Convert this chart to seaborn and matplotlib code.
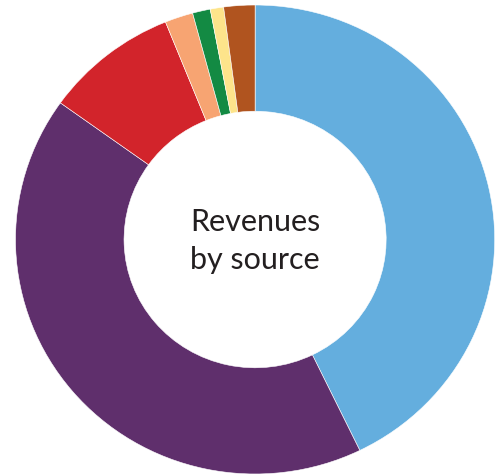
import matplotlib
matplotlib.use('Agg')
import matplotlib.pyplot as plt
import seaborn as sns

# revenue shares (%), clockwise from 12 o'clock
sources = ['Source 1', 'Source 2', 'Source 3', 'Source 4', 'Source 5', 'Source 6', 'Source 7']
shares = [42.8, 42.1, 9.0, 1.9, 1.2, 0.9, 2.1]
colors = ['#64AEDE', '#5F2F6C', '#D2242B', '#F7A472', '#138A43', '#FDE48B', '#B0541F']
center_text = 'Revenues\nby source'

sns.set_theme(style='white')
plt.rcParams['font.family'] = ['Lato', 'DejaVu Sans']

W, H = 503, 476
fig = plt.figure(figsize=(W / 100, H / 100), dpi=100)
# axes box placed to match the donut's pixel extent
ax = fig.add_axes([15.5 / W, 1 - 474 / H, (494.7 - 15.5) / W, (474 - 5) / H])

pal = sns.color_palette(colors)
ax.pie(shares, labels=None, colors=pal, startangle=90, counterclock=False,
       radius=1, wedgeprops=dict(width=0.453, edgecolor='white', linewidth=0.4))
ax.set_aspect('auto')
ax.set_xlim(-1, 1)
ax.set_ylim(-1, 1)
ax.axis('off')

ax.text(0, -0.005, center_text, ha='center', va='center', fontsize=22,
        color='#231F20', linespacing=1.42)

fig.savefig('out.png', dpi=100)
